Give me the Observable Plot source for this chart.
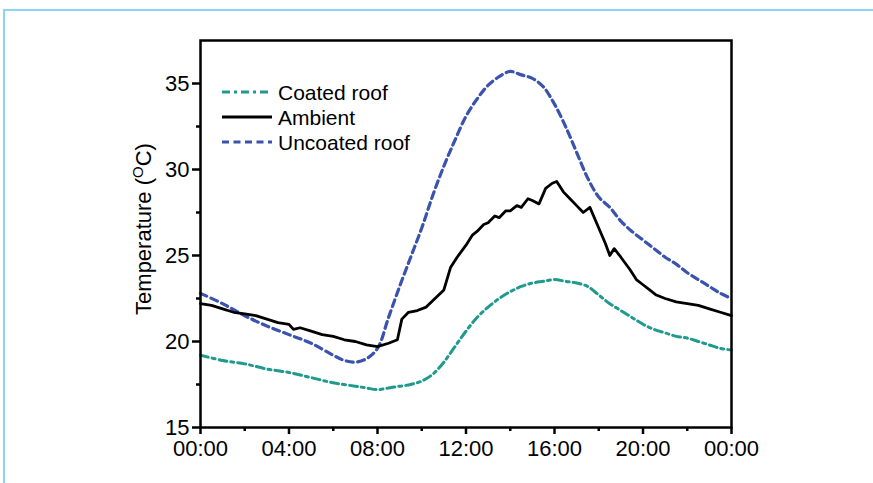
<!DOCTYPE html>
<html>
<head>
<meta charset="utf-8">
<script src="https://cdn.jsdelivr.net/npm/d3@7"></script>
<script src="https://cdn.jsdelivr.net/npm/@observablehq/plot@0.6"></script>
<style>
  html, body { margin: 0; padding: 0; background: #fff; }
  #wrap { position: relative; width: 873px; height: 483px; overflow: hidden; }
  #border { position: absolute; left: 3px; top: 9px; right: -10px; bottom: -10px;
            border-top: 2px solid #8ad6f2; border-left: 2px solid #8ad6f2; pointer-events: none; }
</style>
</head>
<body>
<div id="wrap"><div id="border"></div></div>
<script>
// Coated roof (teal dash-dot)
const coatedHours = [0,1,2,3,4,5,6,7,7.5,8,8.5,9,9.5,10,10.5,11,11.5,12,12.5,13,13.5,14,14.5,15,15.5,16,16.5,17,17.5,18,18.5,19,19.5,20,20.5,21,21.5,22,22.5,23,23.5,24];
const coatedTemp  = [19.2,18.9,18.7,18.4,18.2,17.9,17.6,17.4,17.3,17.2,17.3,17.4,17.5,17.7,18.1,18.8,19.7,20.6,21.4,22.0,22.5,22.9,23.2,23.4,23.5,23.6,23.5,23.4,23.2,22.7,22.2,21.8,21.4,21.0,20.7,20.5,20.3,20.2,20.0,19.8,19.6,19.5];

// Ambient (black solid)
const ambientHours = [0,0.5,1,1.5,2,2.5,3,3.5,4,4.2,4.5,5,5.5,6,6.5,7,7.5,8,8.5,8.9,9.1,9.4,9.8,10.2,10.6,11,11.3,11.6,12,12.3,12.5,12.8,13,13.3,13.5,13.8,14,14.3,14.5,14.8,15,15.3,15.6,15.9,16.1,16.4,16.7,17,17.3,17.6,18,18.3,18.5,18.7,19,19.4,19.7,20,20.3,20.6,21,21.5,22,22.5,23,23.5,24];
const ambientTemp  = [22.2,22.1,21.9,21.7,21.6,21.5,21.3,21.1,21.0,20.7,20.8,20.6,20.4,20.3,20.1,20.0,19.8,19.7,19.9,20.1,21.3,21.7,21.8,22.0,22.5,23.0,24.3,24.9,25.6,26.2,26.4,26.8,26.9,27.3,27.2,27.6,27.6,27.9,27.8,28.3,28.2,28.0,28.9,29.2,29.3,28.7,28.3,27.9,27.5,27.8,26.6,25.7,25.0,25.4,24.9,24.2,23.6,23.3,23.0,22.7,22.5,22.3,22.2,22.1,21.9,21.7,21.5];

// Uncoated roof (blue dashed)
const uncoatedHours = [0,1,2,3,4,5,6,6.5,7,7.5,8,8.5,9,9.5,10,10.5,11,11.5,12,12.5,13,13.5,14,14.5,15,15.5,16,16.5,17,17.5,18,18.5,19,19.5,20,20.5,21,21.5,22,22.5,23,23.5,24];
const uncoatedTemp  = [22.8,22.2,21.5,20.9,20.4,19.9,19.2,18.9,18.8,19.0,19.6,21.4,23.2,24.9,26.6,28.5,30.2,31.7,33.1,34.1,34.9,35.4,35.7,35.5,35.3,34.8,33.8,32.5,31.0,29.5,28.4,27.8,27.0,26.4,25.9,25.4,24.9,24.5,24.0,23.6,23.2,22.8,22.5];

const xTicks = [0,4,8,12,16,20,24];
const xMinor = [2,6,10,14,18,22];
const yTicks = [15,20,25,30,35];
const yMinor = [17.5,22.5,27.5,32.5];
const seriesNames = ["Coated roof","Ambient","Uncoated roof"];
const seriesColors = ["#1f9a8d","#000000","#3a53ad"];
const seriesDash = ["8,4,3,4", null, "7,4.5"];

const toRows = (hs, ts) => hs.map((h, i) => ({h, t: ts[i]}));
const coated = toRows(coatedHours, coatedTemp);
const ambient = toRows(ambientHours, ambientTemp);
const uncoated = toRows(uncoatedHours, uncoatedTemp);

const fmt = d => String(d % 24).padStart(2, "0") + ":00";

const chart = Plot.plot({
  width: 873, height: 483,
  marginLeft: 200, marginRight: 142, marginTop: 40, marginBottom: 56,
  style: {fontFamily: "'Liberation Sans', Arial, sans-serif", fontSize: "22px", color: "#000", background: "transparent"},
  x: {domain: [0, 24]},
  y: {domain: [15, 37.5]},
  marks: [
    Plot.axisX({ticks: xTicks, tickFormat: fmt, tickSize: 7, tickPadding: 6, strokeWidth: 2.5, label: null, fontSize: 22}),
    Plot.axisX({ticks: xMinor, tickFormat: null, text: null, tickSize: 4, strokeWidth: 2.5, label: null}),
    Plot.axisY({ticks: yTicks, tickSize: 8, tickPadding: 3, strokeWidth: 2.5, label: null, fontSize: 22}),
    Plot.axisY({ticks: yMinor, text: null, tickSize: 4, strokeWidth: 2.5, label: null}),
    Plot.line(coated, {x: "h", y: "t", stroke: seriesColors[0], strokeWidth: 3, strokeDasharray: seriesDash[0], curve: "catmull-rom"}),
    Plot.line(uncoated, {x: "h", y: "t", stroke: seriesColors[2], strokeWidth: 3.2, strokeDasharray: seriesDash[2], curve: "catmull-rom"}),
    Plot.line(ambient, {x: "h", y: "t", stroke: seriesColors[1], strokeWidth: 2.8}),
    Plot.frame({stroke: "#000", strokeWidth: 2.5})
  ]
});

const wrap = document.getElementById("wrap");
wrap.insertBefore(chart, wrap.firstChild);

const svg = d3.select(chart);
const font = "'Liberation Sans', Arial, sans-serif";

// Y axis label with superscript
const lab = svg.append("text")
  .attr("transform", "translate(151,229) rotate(-90)")
  .attr("text-anchor", "middle")
  .attr("font-family", font)
  .attr("font-size", 22)
  .attr("fill", "#000");
lab.append("tspan").text("Temperature (");
lab.append("tspan").attr("font-size", 15).attr("dy", -8).text("O");
lab.append("tspan").attr("dy", 8).text("C)");

// Legend
const lg = svg.append("g").attr("font-family", font).attr("font-size", 21).attr("text-anchor", "start");
seriesNames.forEach((name, i) => {
  const y = 92 + i * 25;
  lg.append("line").attr("x1", 222).attr("x2", 272).attr("y1", y).attr("y2", y)
    .attr("stroke", seriesColors[i]).attr("stroke-width", i === 1 ? 2.8 : 3)
    .attr("stroke-dasharray", seriesDash[i]);
  lg.append("text").attr("x", 278).attr("y", y).attr("dy", "0.36em").attr("fill", "#000")
    .attr("text-anchor", "start").text(name);
});
</script>
</body>
</html>
